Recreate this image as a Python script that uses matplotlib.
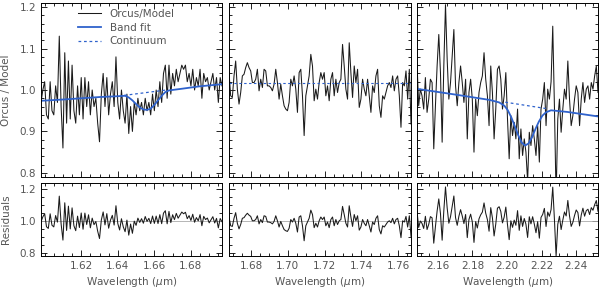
"""
Orcus / model ratio spectra with band fits and residuals
"""

import numpy as np
import matplotlib
matplotlib.use('Agg')
import matplotlib.pyplot as plt
from matplotlib.ticker import MultipleLocator

# ---------------- data ----------------
# left panel: 1.598 - 1.697 um
left_range = (1.598, 1.697)
left_flux = [0.97, 1.00, 1.02, 0.94, 0.93, 1.02, 0.95, 0.94, 1.01, 0.97,
             1.13, 0.96, 0.86, 1.09, 0.92, 1.07, 0.93, 1.06, 0.95, 0.92,
             1.01, 0.94, 1.03, 0.93, 1.03, 0.96, 1.02, 0.94, 1.00, 0.96,
             0.98, 0.92, 0.875, 0.99, 1.04, 0.96, 1.03, 0.94, 0.99, 1.02,
             0.96, 1.08, 0.97, 0.93, 1.00, 0.95, 0.92, 0.99, 0.895, 0.96,
             0.90, 0.97, 0.94, 0.98, 0.95, 0.97, 0.94, 0.98, 0.95, 0.97,
             0.94, 0.99, 0.95, 1.00, 0.96, 1.02, 0.97, 1.04, 1.06, 0.98,
             1.06, 0.99, 1.04, 1.01, 1.05, 1.02, 1.04, 1.06, 1.05, 1.06,
             1.02, 1.04, 1.01, 1.05, 1.00, 1.03, 1.01, 1.05, 0.98, 1.04,
             1.02, 1.03, 1.00, 1.02, 1.04, 1.00, 1.03, 0.97, 1.03, 1.01]
left_fit_wave = [1.598, 1.610, 1.620, 1.630, 1.640, 1.644, 1.646, 1.648, 1.650,
                 1.652, 1.654, 1.656, 1.658, 1.660, 1.662, 1.664, 1.666, 1.668,
                 1.675, 1.685, 1.697]
left_fit = [0.974, 0.977, 0.980, 0.983, 0.985, 0.986, 0.982, 0.975, 0.966,
            0.958, 0.953, 0.952, 0.955, 0.964, 0.975, 0.986, 0.995, 0.999,
            1.003, 1.009, 1.014]
left_cont_wave = [1.6435, 1.6665]
left_cont = [0.987, 1.000]

# middle panel: 1.668 - 1.767 um
mid_range = (1.668, 1.767)
mid_flux = [1.042, 0.986, 0.982, 1.034, 1.070, 1.002, 0.966, 0.994, 1.034, 1.038,
            1.054, 1.066, 1.054, 1.046, 1.018, 1.018, 1.026, 1.050, 0.998, 1.026,
            1.006, 1.050, 1.046, 1.010, 1.010, 1.006, 0.998, 1.014, 1.050, 1.018,
            0.978, 1.014, 0.986, 0.962, 0.954, 0.950, 0.970, 1.026, 1.010, 1.034,
            1.002, 0.946, 1.042, 1.050, 0.986, 0.890, 0.986, 1.010, 1.034, 1.086,
            1.058, 0.974, 1.002, 0.978, 1.018, 1.042, 1.026, 1.042, 0.986, 1.010,
            0.974, 1.026, 1.042, 0.986, 1.026, 0.994, 1.018, 1.026, 1.110, 1.058,
            1.002, 0.978, 1.114, 1.042, 0.982, 1.058, 1.018, 1.050, 0.958, 0.978,
            1.026, 1.002, 0.986, 1.026, 0.986, 0.946, 1.010, 0.994, 1.034, 1.050,
            0.962, 0.934, 0.986, 0.978, 0.994, 1.010, 1.018, 1.006, 1.034, 0.998,
            1.026, 1.034, 0.986, 0.910, 1.018, 1.010, 1.046, 0.978, 1.050, 0.918]
mid_fit_wave = [1.668, 1.767]
mid_fit = [1.016, 1.016]

# right panel: 2.148 - 2.253 um
right_range = (2.1479, 2.2527)
right_flux = [1.066, 0.962, 1.002, 0.986, 0.954, 1.030, 0.946, 0.978, 1.026, 1.018,
              0.858, 0.962, 1.058, 1.134, 1.042, 0.874, 1.058, 1.206, 1.074, 0.978,
              1.018, 1.082, 1.146, 1.010, 0.962, 1.018, 1.058, 1.018, 0.970, 1.026,
              0.882, 0.994, 1.026, 0.978, 0.850, 0.978, 0.938, 0.994, 1.018, 1.034,
              1.090, 1.026, 0.986, 0.914, 1.058, 0.994, 0.882, 0.954, 1.050, 1.058,
              1.026, 0.954, 0.986, 1.042, 0.930, 0.834, 0.938, 0.890, 0.922, 0.882,
              0.954, 0.834, 0.906, 0.842, 0.882, 0.850, 0.780, 0.898, 0.866, 0.914,
              0.882, 0.842, 0.914, 0.826, 0.954, 0.978, 1.018, 0.914, 1.002, 0.978,
              1.020, 1.154, 0.960, 0.740, 0.930, 0.978, 0.898, 0.954, 1.002, 0.978,
              1.070, 0.978, 0.914, 0.938, 0.978, 1.010, 0.994, 0.914, 0.978, 1.018,
              0.970, 1.002, 1.010, 0.978, 1.018, 1.002, 1.034, 1.058, 0.994]
right_fit_wave = [2.1476, 2.170, 2.190, 2.1955, 2.1985, 2.2005, 2.2025, 2.2045,
                  2.2065, 2.2085, 2.2105, 2.2125, 2.2145, 2.2165, 2.2185, 2.2205,
                  2.2225, 2.2255, 2.235, 2.253]
right_fit = [1.003, 0.989, 0.976, 0.970, 0.962, 0.951, 0.934, 0.913,
             0.891, 0.873, 0.866, 0.871, 0.886, 0.906, 0.924, 0.938,
             0.946, 0.951, 0.947, 0.936]
right_cont_wave = [2.199, 2.2225]
right_cont = [0.9706, 0.9553]

panels = [
    (left_range, left_flux, left_fit_wave, left_fit, left_cont_wave, left_cont, 'solid',
     [1.62, 1.64, 1.66, 1.68]),
    (mid_range, mid_flux, mid_fit_wave, mid_fit, None, None, 'dashed',
     [1.68, 1.70, 1.72, 1.74, 1.76]),
    (right_range, right_flux, right_fit_wave, right_fit, right_cont_wave, right_cont, 'solid',
     [2.16, 2.18, 2.20, 2.22, 2.24]),
]

# ---------------- plot configuration ----------------
plt.rcParams['font.family'] = ['DejaVu Sans']
plt.rcParams['font.size'] = 7.5
text_color = '#555555'
blue = '#2f62cc'
dash = (0, (2.2, 2.2))
W, H = 600., 290.
lefts = [41, 229, 417]
widths = [181, 182, 181]

fig = plt.figure(figsize=(6.0, 2.9), dpi=100)


def style_axis(ax, ymajor, yminor):
    ax.xaxis.set_major_locator(MultipleLocator(0.02))
    ax.xaxis.set_minor_locator(MultipleLocator(0.005))
    ax.yaxis.set_major_locator(MultipleLocator(ymajor))
    ax.yaxis.set_minor_locator(MultipleLocator(yminor))
    ax.tick_params(which='both', direction='in', top=True, right=True,
                   colors='black', labelcolor=text_color, width=0.6)
    ax.tick_params(which='major', length=4)
    ax.tick_params(which='minor', length=2.2)
    for s in ax.spines.values():
        s.set_linewidth(0.7)


for n, (xr, flux, fw, fv, cw, cv, fit_style, xticks) in enumerate(panels):
    wave = np.linspace(xr[0], xr[1], len(flux))
    flux = np.array(flux)
    fit_on_grid = np.interp(wave, fw, fv)
    resid = flux / fit_on_grid

    # upper: ratio + fit
    ax = fig.add_axes([lefts[n] / W, 1 - 177 / H, widths[n] / W, 174 / H])
    ax.plot(wave, flux, color='#1a1a1a', lw=0.75, label='Orcus/Model')
    if fit_style == 'solid':
        ax.plot(fw, fv, color=blue, lw=1.3, label='Band fit')
        ax.plot(cw, cv, color=blue, lw=0.9, ls=dash, label='Continuum')
    else:
        ax.plot(fw, fv, color=blue, lw=0.8, ls=dash)
    ax.set_xlim(*xr)
    ax.set_ylim(0.79, 1.21)
    style_axis(ax, 0.1, 0.02)
    ax.set_xticks(xticks)
    ax.tick_params(labelbottom=False)
    if n == 0:
        ax.yaxis.set_major_formatter(matplotlib.ticker.FormatStrFormatter('%.1f'))
        ax.set_ylabel('Orcus / Model', color=text_color, labelpad=6)
        leg = ax.legend(loc='upper left', bbox_to_anchor=(0.15, 1.02), frameon=False,
                        handlelength=2.3, handletextpad=0.8, labelspacing=0.35)
        for t in leg.get_texts():
            t.set_color(text_color)
    else:
        ax.tick_params(labelleft=False)

    # lower: residuals
    ax = fig.add_axes([lefts[n] / W, 1 - 256 / H, widths[n] / W, 73 / H])
    ax.axhline(1.0, color='#aaaaaa', lw=0.6)
    ax.plot(wave, resid, color='#1a1a1a', lw=0.75)
    ax.set_xlim(*xr)
    ax.set_ylim(0.78, 1.24)
    style_axis(ax, 0.2, 0.05)
    ax.set_xticks(xticks)
    ax.xaxis.set_major_formatter(matplotlib.ticker.FormatStrFormatter('%.2f'))
    ax.set_xlabel('Wavelength ($\\mu$m)', color=text_color, labelpad=3)
    if n == 0:
        ax.yaxis.set_major_formatter(matplotlib.ticker.FormatStrFormatter('%.1f'))
        ax.set_ylabel('Residuals', color=text_color, labelpad=6)
    else:
        ax.tick_params(labelleft=False)

fig.savefig('out.png', dpi=100)
